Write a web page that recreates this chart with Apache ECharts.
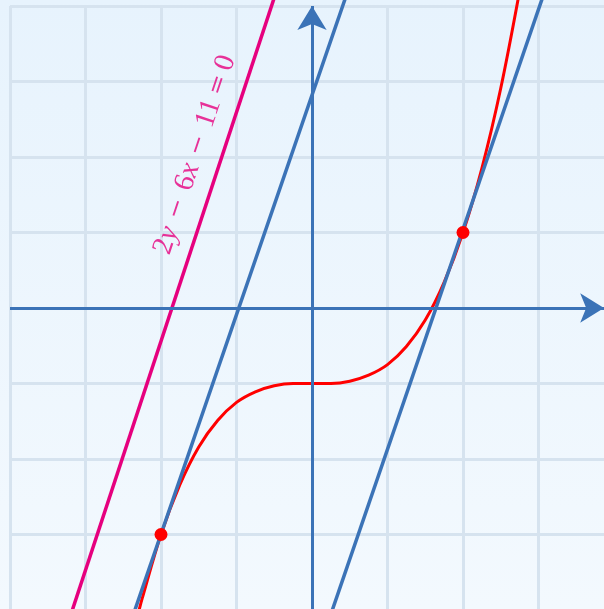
<!DOCTYPE html>
<html>
<head>
<meta charset="utf-8">
<script src="https://cdn.jsdelivr.net/npm/echarts@6/dist/echarts.min.js"></script>
<style>
html,body{margin:0;padding:0;background:#fff;}
#c{width:604px;height:609px;}
</style>
</head>
<body>
<div id="c"></div>
<script>
// Curve y = x^3/4 - 1
const curveX = [-2.3, -2.25, -2, -1.75, -1.5, -1.25, -1, -0.75, -0.5, -0.25, 0, 0.25, 0.5, 0.75, 1, 1.25, 1.5, 1.75, 2, 2.25, 2.5, 2.75];
const curveY = [-4.04, -3.85, -3, -2.34, -1.84, -1.49, -1.25, -1.11, -1.03, -1.00, -1, -1.00, -0.97, -0.89, -0.75, -0.51, -0.16, 0.34, 1, 1.85, 2.91, 4.20];
// Tangent lines (endpoints)
const tangent1X = [-2.38, 0.475];
const tangent1Y = [-4.1, 4.2];
const tangent2X = [0.235, 3.084];
const tangent2Y = [-4.1, 4.2];
// Magenta line 2y-6x-11=0
const magentaX = [-3.207, -0.47];
const magentaY = [-4.1, 4.2];
// Tangent points
const pointsX = [-2, 2];
const pointsY = [-3, 1];
// Label
const labelPos = [-1.55, 2.03];
// Axes extents
const xAxisLine = [-4, 3.87];
const yAxisLine = [-4, 4];

const zip = (a, b) => a.map((v, i) => [v, b[i]]);

const chart = echarts.init(document.getElementById('c'), null, {renderer: 'canvas'});
const gridColor = '#d6e3ef';
const blue = '#3b73b7';
const magenta = '#e6007e';
const ms = '\u2004';
chart.setOption({
  animation: false,
  backgroundColor: {
    type: 'linear', x: 0, y: 0, x2: 0, y2: 1,
    colorStops: [{offset: 0, color: '#e7f3fd'}, {offset: 1, color: '#f3f9fe'}]
  },
  grid: {left: 10, top: 6, width: 604, height: 604, containLabel: false, outerBoundsMode: 'none'},
  xAxis: {
    type: 'value', min: -4, max: 4, interval: 1,
    axisLine: {show: false}, axisTick: {show: false}, axisLabel: {show: false},
    splitLine: {show: true, lineStyle: {color: gridColor, width: 3}}
  },
  yAxis: {
    type: 'value', min: -4, max: 4, interval: 1,
    axisLine: {show: false}, axisTick: {show: false}, axisLabel: {show: false},
    splitLine: {show: true, lineStyle: {color: gridColor, width: 3}}
  },
  series: [
    {
      type: 'line', data: [], z: 1, silent: true,
      markLine: {
        silent: true, animation: false,
        symbol: ['none', 'arrow'], symbolSize: [22, 24],
        label: {show: false},
        lineStyle: {color: blue, width: 3, type: 'solid'},
        emphasis: {disabled: true},
        data: [
          [{coord: [xAxisLine[0], 0]}, {coord: [xAxisLine[1], 0]}],
          [{coord: [0, yAxisLine[0]]}, {coord: [0, yAxisLine[1]]}]
        ]
      }
    },
    {
      type: 'line', data: zip(curveX, curveY), smooth: 0.35, showSymbol: false,
      clip: false, z: 2, lineStyle: {color: '#ff0000', width: 3}
    },
    {
      type: 'line', data: zip(tangent1X, tangent1Y), showSymbol: false,
      clip: false, z: 3, lineStyle: {color: blue, width: 3.5}
    },
    {
      type: 'line', data: zip(tangent2X, tangent2Y), showSymbol: false,
      clip: false, z: 3, lineStyle: {color: blue, width: 3.5}
    },
    {
      type: 'line', data: zip(magentaX, magentaY), showSymbol: false,
      clip: false, z: 3, lineStyle: {color: magenta, width: 3.5}
    },
    {
      type: 'scatter', data: zip(pointsX, pointsY), symbolSize: 13, z: 5,
      itemStyle: {color: '#ff0000', opacity: 1}
    },
    {
      type: 'scatter', data: [labelPos], symbolSize: 0, z: 6, silent: true,
      label: {
        show: true, position: 'inside', rotate: 71.57,
        formatter: '{n|2}{i|y}{n|' + ms + '}{o|−}{n|' + ms + '6}{i|x}{n|' + ms + '}{o|−}{n|' + ms + '11\u2009}{o|=}{n|\u20090}',
        rich: {
          n: {fontFamily: 'Liberation Serif', fontSize: 29, color: magenta},
          i: {fontFamily: 'Liberation Serif', fontStyle: 'italic', fontSize: 29, color: magenta},
          o: {fontFamily: 'DejaVu Serif', fontSize: 24, color: magenta}
        }
      }
    }
  ]
});
</script>
</body>
</html>
